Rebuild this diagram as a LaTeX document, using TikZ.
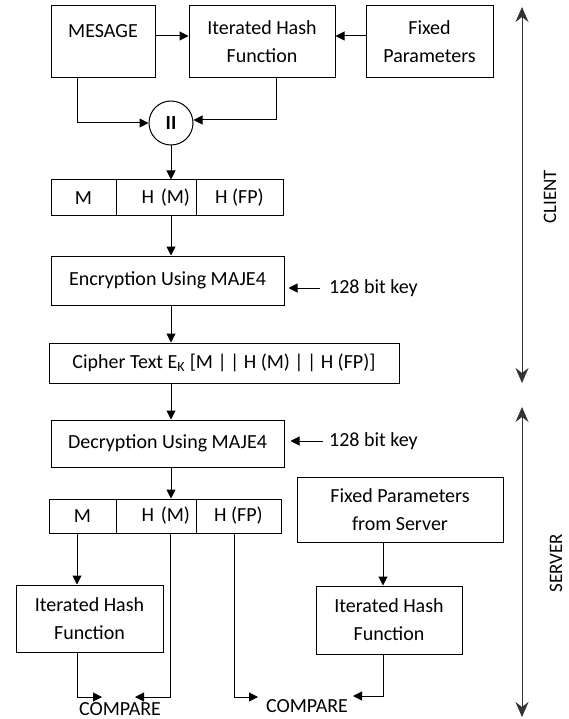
\documentclass[tikz,border=0pt]{standalone}
\usepackage{fontspec}
\setmainfont{Carlito}
\usetikzlibrary{arrows.meta,calc}
\begin{document}
\begin{tikzpicture}[x=1pt,y=-1pt,
  every node/.style={font=\fontsize{20}{28}\selectfont, text=black},
  box/.style={draw, line width=1pt, rectangle, inner sep=0pt, align=center},
  arr/.style={line width=1pt, -{Triangle[length=9pt,width=9pt]}},
  ln/.style={line width=1pt},
  side/.style={line width=1pt, draw=black!80, {Stealth[length=15pt,width=13pt,inset=5pt]}-{Stealth[length=15pt,width=13pt,inset=5pt]}},
  sidelbl/.style={rotate=90, font=\fontsize{19}{19}\selectfont}]
\useasboundingbox (0,0) rectangle (569,719);

% client top row
\node[box, minimum width=104, minimum height=72] (mes) at (103,42) {};
\node (mest) at (103,31) {MESAGE};
\node[box, minimum width=146, minimum height=72] (ihf) at (262,42) {Iterated Hash\\Function};
\node[box, minimum width=127, minimum height=72] (fp) at (429.5,42) {Fixed\\Parameters};
\node[draw, circle, line width=1pt, minimum size=44, inner sep=0pt, font=\fontsize{20}{20}\selectfont\bfseries] (cc) at (171,123) {II};

\draw[arr] ([yshift=6pt]mes.east) -- ([yshift=6pt]ihf.west);
\draw[arr] ([yshift=6pt]fp.west) -- ([yshift=6pt]ihf.east);
\draw[arr] ([xshift=-26pt]mes.south) |- (cc.west);
\draw[arr] ([xshift=14pt]ihf.south) |- ([yshift=3pt]cc.east);

% row 1
\node[box, minimum width=65, minimum height=36] (r1a) at (83.5,198) {M};
\node[box, minimum width=80, minimum height=36, text width=68, align=right] (r1b) at (156,198) {H (M)};
\node[box, minimum width=87, minimum height=36] (r1c) at (239.5,198) {H (FP)};
\draw[arr] (cc.south) -- (cc.south |- r1b.north);

% encryption
\node[box, minimum width=233, minimum height=49] (enc) at (167.5,280.5) {Encryption Using MAJE4};
\draw[arr] (cc.south |- r1b.south) -- (cc.south |- enc.north);
\node[anchor=west, inner sep=0pt] (k1) at (329,288) {128 bit key};
\draw[arr] ([xshift=-9pt]k1.west) -- ([xshift=4pt]enc.east |- k1.west);

% cipher
\node[box, minimum width=350, minimum height=40] (ci) at (224,363) {Cipher Text E\textsubscript{K} [M |\,| H (M) |\,| H (FP)]};
\draw[arr] (cc.south |- enc.south) -- (cc.south |- ci.north);

% decryption
\node[box, minimum width=233, minimum height=47] (dec) at (167.5,443.5) {Decryption Using MAJE4};
\draw[arr] (cc.south |- ci.south) -- (cc.south |- dec.north);
\node[anchor=west, inner sep=0pt] (k2) at (329,441) {128 bit key};
\draw[arr] ([xshift=-6pt]k2.west) -- ([xshift=6pt]dec.east |- k2.west);

% row 2
\node[box, minimum width=67, minimum height=34] (r2a) at (82.5,516) {M};
\node[box, minimum width=80, minimum height=34, text width=68, align=right] (r2b) at (156,516) {H (M)};
\node[box, minimum width=85, minimum height=34] (r2c) at (238.5,516) {H (FP)};
\draw[arr] (cc.south |- dec.south) -- (cc.south |- r2b.north);

% server boxes
\node[box, minimum width=147, minimum height=67] (ha) at (89.5,618.5) {Iterated Hash\\Function};
\node[box, minimum width=206, minimum height=65] (fs) at (400,509.5) {Fixed Parameters\\from Server};
\node[box, minimum width=146, minimum height=68] (hb) at (389,620) {Iterated Hash\\Function};

\coordinate (xm) at (77,0);
\coordinate (xh) at (170,0);
\coordinate (xf) at (234,0);
\coordinate (xs) at (383,0);

\node[inner sep=1pt] (cmp1) at (120,709) {COMPARE};
\node[inner sep=1pt] (cmp2) at (307,706) {COMPARE};
\coordinate (j1) at (77,697);
\coordinate (j2) at (170,697);
\coordinate (j3) at (234,697);
\coordinate (j4) at (383,696);

\draw[arr] (xm |- r2a.south) -- (xm |- ha.north);
\draw[arr] (xm |- ha.south) -- (j1) -- ([xshift=-18pt]cmp1.north |- j1);
\draw[arr] (xh |- r2b.south) -- (j2) -- ([xshift=15pt]cmp1.north |- j2);
\draw[arr] (xf |- r2c.south) -- (j3) -- ([xshift=-49pt]cmp2.north |- j3);
\draw[arr] (xs |- fs.south) -- (xs |- hb.north);
\draw[arr] (xs |- hb.south) -- (j4) -- ([xshift=46pt]cmp2.north |- j4);

% side arrows
\coordinate (c1) at (522,7);
\coordinate (c2) at (522,383);
\coordinate (s1) at (522,407);
\coordinate (s2) at (522,717);
\draw[side] (c1) -- (c2);
\draw[side] (s1) -- (s2);
\node[sidelbl] (cl) at (550,197) {CLIENT};
\node[sidelbl] (sv) at (556,563) {SERVER};
\end{tikzpicture}
\end{document}
